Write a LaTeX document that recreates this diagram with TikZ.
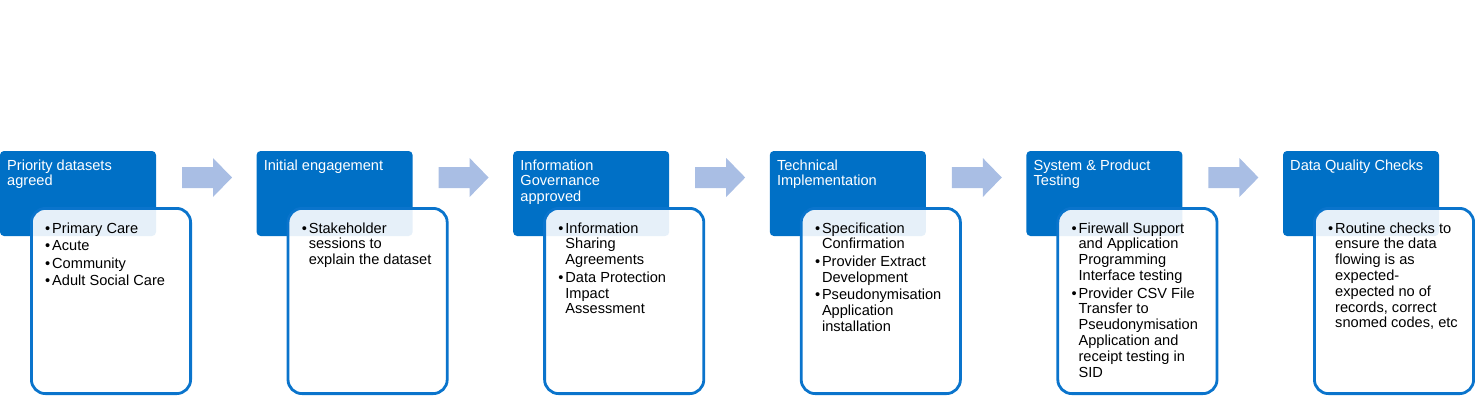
\documentclass[tikz,border=0pt]{standalone}
\usepackage{fontspec}
\setmainfont{Liberation Sans}
\definecolor{hdrblue}{HTML}{0070C6}
\definecolor{brdblue}{HTML}{0A74CC}
\definecolor{arrblue}{HTML}{A9BEE4}
\newcommand\bl[1]{\hbox{\hbox to 7pt{\textbullet\hss}#1}}
\newcommand\cl[1]{\hbox{\hskip7pt #1}}
\newcommand\gap{\vskip1.8pt}
\newcommand\lines[1]{\vtop{\baselineskip=15.8pt\lineskiplimit=-10pt #1}}
\tikzset{
  hdrbox/.style={fill=hdrblue, rounded corners=4pt, draw=none},
  bodybox/.style={draw=brdblue, line width=2.8pt, fill=white, fill opacity=0.9, rounded corners=14pt},
  hdrtext/.style={anchor=base west, inner sep=0pt, text=white, font=\fontsize{14.6}{15.8}\selectfont},
  bodytext/.style={anchor=base west, inner sep=0pt, text=black, font=\fontsize{14.6}{15.8}\selectfont},
  steparrow/.style={fill=arrblue, draw=none}
}
\begin{document}
\begin{tikzpicture}[x=1pt,y=-1pt]
\useasboundingbox (0,0) rectangle (1475,397);
% step geometry
\foreach \i/\x in {1/0,2/256.6,3/513.2,4/769.8,5/1026.4,6/1283} {
  \path[hdrbox] (\x,151) rectangle ++(156,85);
  \coordinate (h\i) at (\x+7,170);
  \coordinate (b\i) at (\x+45,233);
  \path[bodybox] (\x+31.4,208.4) rectangle (\x+190.6,393.6);
}
\foreach \x in {0,256.6,513.2,769.8,1026.4} {
  \path[steparrow] (\x+182,167) -- (\x+213,167) -- (\x+213,158) -- (\x+232,177.5)
     -- (\x+213,197) -- (\x+213,188) -- (\x+182,188) -- cycle;
}
% header texts
\node[hdrtext] (t1) at (h1) {\lines{\hbox{Priority datasets}\hbox{agreed}}};
\node[hdrtext] (t2) at (h2) {\lines{\hbox{Initial engagement}}};
\node[hdrtext] (t3) at (h3) {\lines{\hbox{Information}\hbox{Governance}\hbox{approved}}};
\node[hdrtext] (t4) at (h4) {\lines{\hbox{Technical}\hbox{Implementation}}};
\node[hdrtext] (t5) at (h5) {\lines{\hbox{System \& Product}\hbox{Testing}}};
\node[hdrtext] (t6) at (h6) {\lines{\hbox{Data Quality Checks}}};
% body texts
\node[bodytext] (c1) at (b1) {\lines{\bl{Primary Care}\gap\bl{Acute}\gap\bl{Community}\gap\bl{Adult Social Care}}};
\node[bodytext] (c2) at (b2) {\lines{\bl{Stakeholder}\cl{sessions to}\cl{explain the dataset}}};
\node[bodytext] (c3) at (b3) {\lines{\bl{Information}\cl{Sharing}\cl{Agreements}\gap\bl{Data Protection}\cl{Impact}\cl{Assessment}}};
\node[bodytext] (c4) at (b4) {\lines{\bl{Specification}\cl{Confirmation}\gap\bl{Provider Extract}\cl{Development}\gap\bl{Pseudonymisation}\cl{Application}\cl{installation}}};
\node[bodytext] (c5) at (b5) {\lines{\bl{Firewall Support}\cl{and Application}\cl{Programming}\cl{Interface testing}\gap\bl{Provider CSV File}\cl{Transfer to}\cl{Pseudonymisation}\cl{Application and}\cl{receipt testing in}\cl{SID}}};
\node[bodytext] (c6) at (b6) {\lines{\bl{Routine checks to}\cl{ensure the data}\cl{flowing is as}\cl{expected-}\cl{expected no of}\cl{records, correct}\cl{snomed codes, etc}}};
\end{tikzpicture}
\end{document}
